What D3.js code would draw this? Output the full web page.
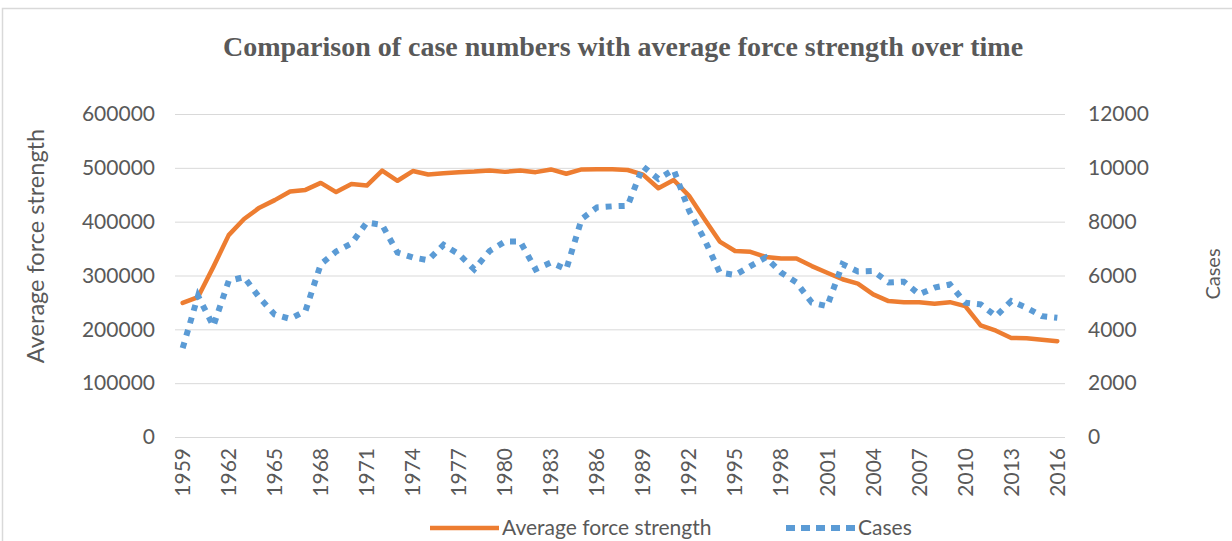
<!DOCTYPE html>
<html>
<head>
<meta charset="utf-8">
<script src="https://cdn.jsdelivr.net/npm/d3@7"></script>
<style>
    body { margin: 0; background: #fff; }
    text { font-family: Lato, "Open Sans", sans-serif; fill: #595959; }
    .grid line { stroke: #d9d9d9; stroke-width: 1; }
</style>
</head>
<body>
<svg class="plot" width="1232" height="541"></svg>
<script>
const years = d3.range(1959, 2017);

// average force strength (left axis)
const force = [
    249000, 260000, 316000, 375000, 405000, 426000, 440000, 456000, 459000, 472000,
    455000, 470000, 467000, 495000, 476000, 494000, 487500, 490000, 492000, 493000,
    495000, 492500, 495000, 492000, 497000, 489000, 497000, 497500, 497500, 496000,
    487500, 462000, 477500, 448000, 405000, 363000, 345500, 344000, 334500, 331500,
    331500, 317500, 305000, 293000, 285000, 265000, 252500, 250500, 250500, 247500,
    250500, 243000, 207500, 197500, 184000, 183500, 180500, 178000
];

// cases (right axis)
const cases = [
    3300, 5240, 4120, 5800, 5940, 5180, 4550, 4390, 4680, 6420,
    6890, 7190, 7970, 7880, 6850, 6670, 6570, 7140, 6790, 6230,
    6910, 7260, 7260, 6230, 6480, 6230, 8100, 8530, 8570, 8590,
    10050, 9590, 9930, 8410, 7350, 6110, 6020, 6350, 6670, 6110,
    5740, 4990, 4860, 6420, 6150, 6170, 5740, 5770, 5300, 5550,
    5670, 4990, 4930, 4490, 5050, 4800, 4490, 4430
];

const leftTicks = [0, 100000, 200000, 300000, 400000, 500000, 600000];
const rightTicks = [0, 2000, 4000, 6000, 8000, 10000, 12000];
const xLabelYears = years.filter((y, i) => i % 3 === 0);

const m = {l: 175, r: 1065, t: 114, b: 437};
const svg = d3.select('.plot');

// chart area frame
svg.append('rect')
  .attr('x', 2.5).attr('y', 8.5)
  .attr('width', 1260).attr('height', 600)
  .attr('fill', 'none').attr('stroke', '#d9d9d9').attr('stroke-width', 1.5);

const xS = d3.scalePoint().domain(years).range([m.l, m.r]).padding(0.5);
const yL = d3.scaleLinear().domain([0, 600000]).range([m.b, m.t]);
const yR = d3.scaleLinear().domain([0, 12000]).range([m.b, m.t]);

// gridlines
svg.append('g')
  .attr('class', 'grid')
  .attr('transform', `translate(${m.l},0)`)
  .call(d3.axisLeft(yL).tickValues(leftTicks).tickSize(-(m.r - m.l)).tickFormat(''))
  .call(g => g.select('.domain').remove());

// left axis labels
svg.append('g')
  .attr('transform', `translate(${m.l - 20},0)`)
  .call(d3.axisLeft(yL).tickValues(leftTicks).tickSize(0).tickFormat(d3.format('d')))
  .call(g => g.select('.domain').remove())
  .selectAll('text')
  .attr('x', 0)
  .style('font-size', '21px').style('fill', '#595959');

// right axis labels
svg.append('g')
  .attr('transform', `translate(${m.r + 23},0)`)
  .call(d3.axisRight(yR).tickValues(rightTicks).tickSize(0).tickFormat(d3.format('d')))
  .call(g => g.select('.domain').remove())
  .selectAll('text')
  .attr('x', 0)
  .style('font-size', '21px').style('fill', '#595959');

// x labels, rotated
svg.append('g')
  .selectAll('text')
  .data(xLabelYears)
  .join('text')
  .attr('transform', d => `translate(${xS(d)},448) rotate(-90)`)
  .attr('text-anchor', 'end')
  .attr('dy', '0.35em')
  .style('font-size', '21px')
  .text(d => d);

// lines
const forceLine = d3.line().x((d, i) => xS(years[i])).y(d => yL(d));
const casesLine = d3.line().x((d, i) => xS(years[i])).y(d => yR(d));

svg.append('path')
  .datum(force)
  .attr('d', forceLine)
  .attr('fill', 'none')
  .attr('stroke', '#ed7d31')
  .attr('stroke-width', 4.5)
  .attr('stroke-linejoin', 'round')
  .attr('stroke-linecap', 'round');

svg.append('path')
  .datum(cases)
  .attr('d', casesLine)
  .attr('fill', 'none')
  .attr('stroke', '#5b9bd5')
  .attr('stroke-width', 6)
  .attr('stroke-dasharray', '6 7');

// title
svg.append('text')
  .attr('x', 623).attr('y', 56)
  .attr('text-anchor', 'middle')
  .style('font-family', '"Liberation Serif", "Times New Roman", serif')
  .style('font-weight', 'bold')
  .style('font-size', '28px')
  .text('Comparison of case numbers with average force strength over time');

// axis titles
svg.append('text')
  .attr('transform', 'translate(44,246) rotate(-90)')
  .attr('text-anchor', 'middle')
  .style('font-size', '23.5px')
  .text('Average force strength');

svg.append('text')
  .attr('transform', 'translate(1220,274) rotate(-90)')
  .attr('text-anchor', 'middle')
  .style('font-size', '20px')
  .text('Cases');

// legend
const leg = svg.append('g');
leg.append('line')
  .attr('x1', 430).attr('x2', 499).attr('y1', 528).attr('y2', 528)
  .attr('stroke', '#ed7d31').attr('stroke-width', 4.5);
leg.append('text')
  .attr('x', 502).attr('y', 528).attr('dy', '0.35em')
  .style('font-size', '21px')
  .text('Average force strength');
leg.append('line')
  .attr('x1', 786).attr('x2', 857).attr('y1', 528).attr('y2', 528)
  .attr('stroke', '#5b9bd5').attr('stroke-width', 6)
  .attr('stroke-dasharray', '9 6');
leg.append('text')
  .attr('x', 858).attr('y', 528).attr('dy', '0.35em')
  .style('font-size', '21px')
  .text('Cases');
</script>
</body>
</html>
